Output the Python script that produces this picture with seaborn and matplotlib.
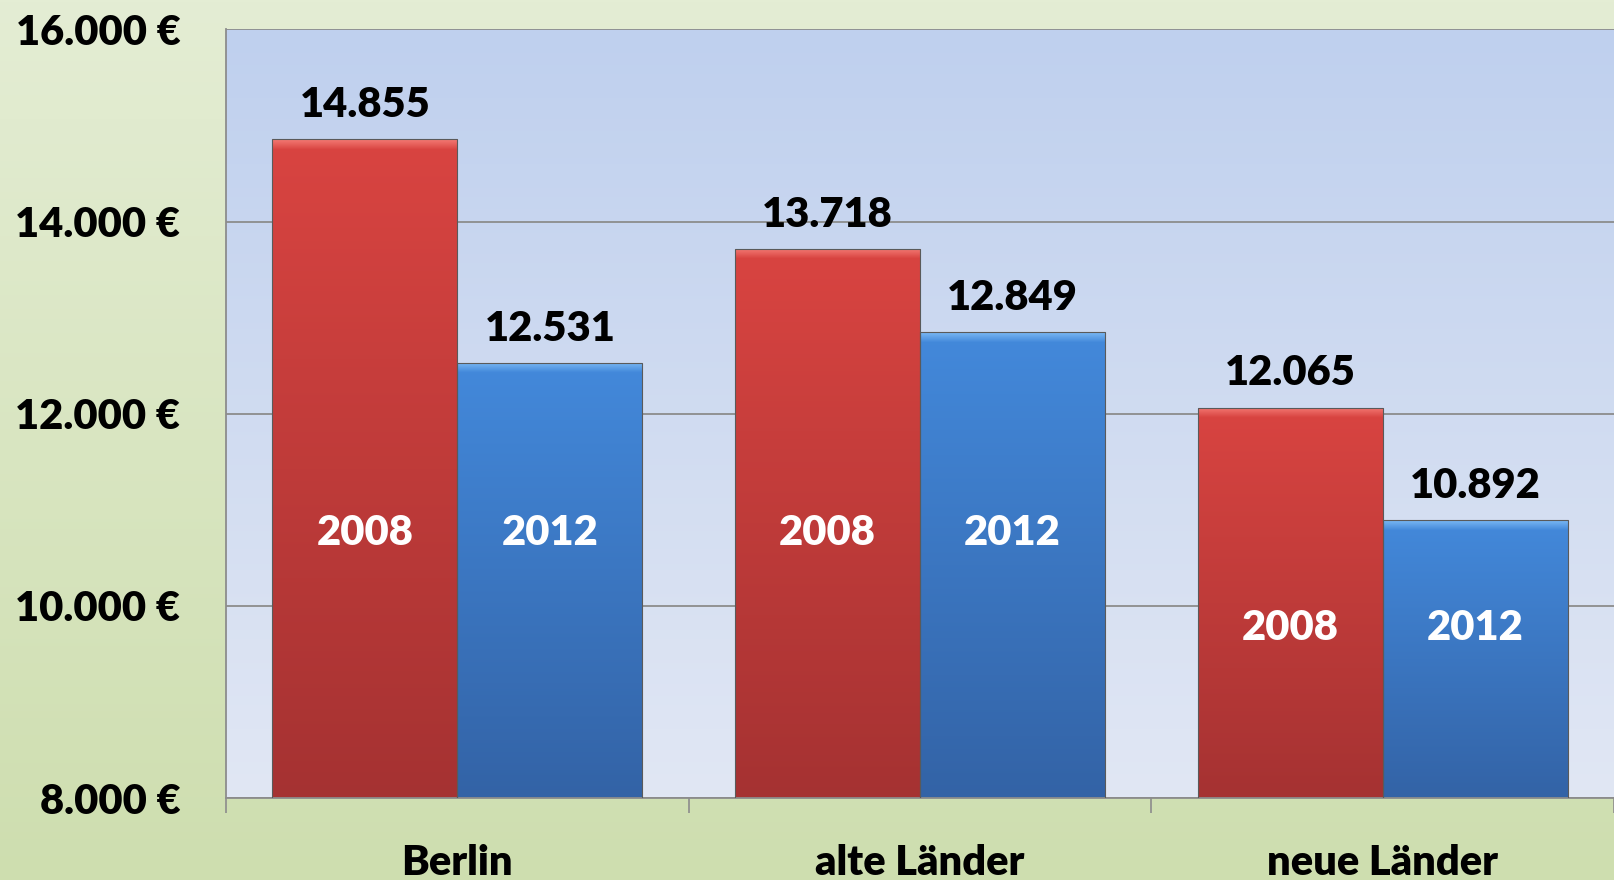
import matplotlib.pyplot as plt
import matplotlib.colors as mcolors
import numpy as np
import pandas as pd
import seaborn as sns
from matplotlib.ticker import FuncFormatter, FixedLocator

# Data
regions = ["Berlin", "alte Länder", "neue Länder"]
years = ["2008", "2012"]
values_2008 = [14855, 13718, 12065]
values_2012 = [12531, 12849, 10892]
y_ticks = [8000, 10000, 12000, 14000, 16000]

df = pd.DataFrame({
    "region": regions * 2,
    "year": [years[0]] * 3 + [years[1]] * 3,
    "value": values_2008 + values_2012,
})

sns.set_theme(style="white")
plt.rcParams["font.family"] = ["Lato", "DejaVu Sans"]
WEIGHT = "heavy"

fig = plt.figure(figsize=(16.15, 8.8), dpi=100)

# Figure background: light green gradient
bg = fig.add_axes([0, 0, 1, 1], zorder=-10)
bg_cmap = mcolors.LinearSegmentedColormap.from_list("bg", ["#cedeaf", "#e4edd4"])
bg.imshow(np.linspace(0, 1, 256).reshape(-1, 1), aspect="auto", cmap=bg_cmap,
          origin="lower", extent=[0, 1, 0, 1])
bg.set_axis_off()

ax = fig.add_axes([0.14, 0.093, 0.8594, 0.8735])
ax.set_facecolor("none")

red_colors = ["#a53232", "#d94441"]
blue_colors = ["#3363a6", "#4389db"]
sns.barplot(data=df, x="region", y="value", hue="year", palette=[red_colors[1], blue_colors[1]],
            width=0.8, saturation=1, legend=False, ax=ax, zorder=2)

ymin, ymax = 8000, 16000
ax.set_ylim(ymin, ymax)
ax.set_xlim(-0.5, 2.5)

# Plot-area background: blue gradient
pa_cmap = mcolors.LinearSegmentedColormap.from_list("pa", ["#e1e7f4", "#bfd0ee"])
ax.imshow(np.linspace(0, 1, 256).reshape(-1, 1), aspect="auto", cmap=pa_cmap, origin="lower",
          extent=[0, 1, 0, 1], transform=ax.transAxes, zorder=0.1)

# Gradient fill for bars, with a soft bevel highlight at the top
px_per_unit = (0.8735 * 880) / (ymax - ymin)
for i, patch in enumerate(ax.patches):
    base, top = (red_colors, "#f47a74") if i < 3 else (blue_colors, "#7ab8f4")
    x, w, h = patch.get_x(), patch.get_width(), patch.get_height()
    frac = 10 / ((h - ymin) * px_per_unit)
    n = 600
    t = np.linspace(0, 1, n)
    c0, c1 = np.array(mcolors.to_rgb(base[0])), np.array(mcolors.to_rgb(base[1]))
    img = c0[None, :] * (1 - t[:, None]) + c1[None, :] * t[:, None]
    hl_w = np.clip((t - (1 - frac)) / frac, 0, 1)[:, None]
    img = img * (1 - hl_w) + np.array(mcolors.to_rgb(top))[None, :] * hl_w
    im = ax.imshow(img[:, None, :], aspect="auto", origin="lower",
                   extent=[x, x + w, ymin, h], zorder=2.5)
    im.set_clip_path(patch)
    patch.set_facecolor("none")
    patch.set_edgecolor("#5a5a5a")
    patch.set_linewidth(0.8)
    patch.set_zorder(2.6)

ax.set_xlim(-0.5, 2.5)
ax.set_ylim(ymin, ymax)

# Value labels above bars and year labels inside
year_label_y = [10760, 10760, 9770]
for i, patch in enumerate(ax.patches):
    cx = patch.get_x() + patch.get_width() / 2
    h = patch.get_height()
    ax.annotate(f"{h:,.0f}".replace(",", "."), (cx, h), xytext=(0, 16), textcoords="offset points",
                ha="center", va="baseline", fontsize=30, fontweight=WEIGHT, color="black", zorder=5)
    ax.text(cx, year_label_y[i % 3], years[i // 3], ha="center", va="center",
            fontsize=30, fontweight=WEIGHT, color="white", zorder=5)

# Axes styling
ax.yaxis.set_major_locator(FixedLocator(y_ticks))
ax.yaxis.set_major_formatter(FuncFormatter(lambda v, _: f"{v:,.0f} €".replace(",", ".")))
ax.grid(axis="y", color="#8c8c8c", linewidth=1.3, zorder=0.5)
ax.set_axisbelow(True)
for s in ["top", "right"]:
    ax.spines[s].set_visible(False)
for s in ["left", "bottom"]:
    ax.spines[s].set_color("#8c8c8c")
    ax.spines[s].set_linewidth(1.3)

ax.tick_params(axis="y", length=11, width=1.2, color="#8c8c8c", pad=22, labelsize=30)
ax.set_xticks([0, 1, 2])
ax.set_xticklabels(regions)
ax.set_xticks([-0.5, 0.5, 1.5, 2.5], minor=True)
ax.tick_params(axis="x", which="major", length=0, pad=33, labelsize=30)
ax.tick_params(axis="x", which="minor", length=11, width=1.2, color="#8c8c8c", bottom=True)
for lab in ax.get_xticklabels() + ax.get_yticklabels():
    lab.set_fontweight(WEIGHT)
    lab.set_color("black")
ax.set_xlabel("")
ax.set_ylabel("")

fig.savefig("out.png", dpi=100)
